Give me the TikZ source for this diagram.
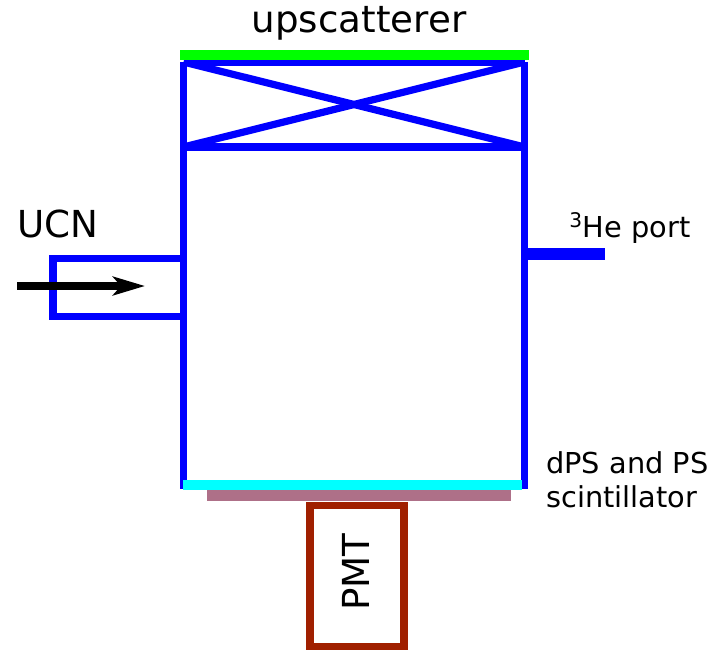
\documentclass[tikz,border=0pt]{standalone}
\usepackage{fontspec}
\setmainfont{DejaVu Sans}
\usetikzlibrary{arrows.meta,positioning}
\definecolor{wallblue}{HTML}{0000FF}
\definecolor{topgreen}{HTML}{00FF00}
\definecolor{dpscyan}{HTML}{00FFFF}
\definecolor{scintmauve}{HTML}{AE7088}
\definecolor{pmtred}{HTML}{A02000}

\begin{document}
\begin{tikzpicture}[
  x=0.75pt, y=-0.75pt,
  wall/.style={draw=wallblue, line width=5.4pt},
  biglabel/.style={font=\fontsize{27.9}{32}\selectfont, inner sep=0pt},
  smalllabel/.style={font=\fontsize{21.6}{25.5}\selectfont, inner sep=0pt, align=left},
  arr/.style={-{Stealth[length=24pt, width=14pt, inset=6pt]}, line width=6pt}
]
\useasboundingbox (0,0) rectangle (717,651);
% chamber corners
\coordinate (topL) at (183.5,62);
\coordinate (topR) at (524.5,62);
\coordinate (barL) at (183.5,147);
\coordinate (barR) at (524.5,147);
\coordinate (botL) at (183.5,489);
\coordinate (botR) at (524.5,489);
% walls
\draw[wall] (topL) -- (botL);
\draw[wall] (topR) -- (botR);
\draw[wall] (topL) -- (topR);
\draw[wall] (barL) -- (barR);
\draw[wall] (topL) -- (barR);
\draw[wall] (barL) -- (topR);
% UCN inlet
\coordinate (inA) at (183.5,258.5);
\coordinate (inB) at (53,258.5);
\coordinate (inC) at (53,316.5);
\coordinate (inD) at (183.5,316.5);
\draw[wall, line join=miter] (inA) -- (inB) -- (inC) -- (inD);
\coordinate (ucnS) at (17,286);
\coordinate (ucnE) at (145,286);
\draw[arr] (ucnS) -- (ucnE);
% 3He port
\coordinate (portA) at (524.5,254);
\coordinate (portB) at (605,254);
\draw[draw=wallblue, line width=9.5pt] (portA) -- (portB);
% upscatterer, scintillator, PMT
\coordinate (upL) at (180,55);
\coordinate (upR) at (529,55);
\draw[draw=topgreen, line width=7.8pt] (upL) -- (upR);
\coordinate (dpsL) at (183,485);
\coordinate (dpsR) at (522,485);
\draw[draw=dpscyan, line width=7.8pt] (dpsL) -- (dpsR);
\coordinate (psL) at (207,495.5);
\coordinate (psR) at (511,495.5);
\draw[draw=scintmauve, line width=7.8pt] (psL) -- (psR);
\node[draw=pmtred, line width=5.6pt, minimum width=70.5pt, minimum height=106pt, inner sep=0pt] (pmt) at (357,576) {};
\node[biglabel, rotate=90] (pmtlabel) at (355.5,572) {PMT};
% labels
\node[biglabel] (uplabel) at (359,23) {upscatterer};
\node[biglabel] (ucnlabel) at (58,224) {UCN};
\node[smalllabel, anchor=west] (helabel) at (569,228) {\textsuperscript{3}He port};
\node[smalllabel, anchor=north west] (dpslabel) at (546,451) {dPS and PS\\scintillator};
\end{tikzpicture}
\end{document}
